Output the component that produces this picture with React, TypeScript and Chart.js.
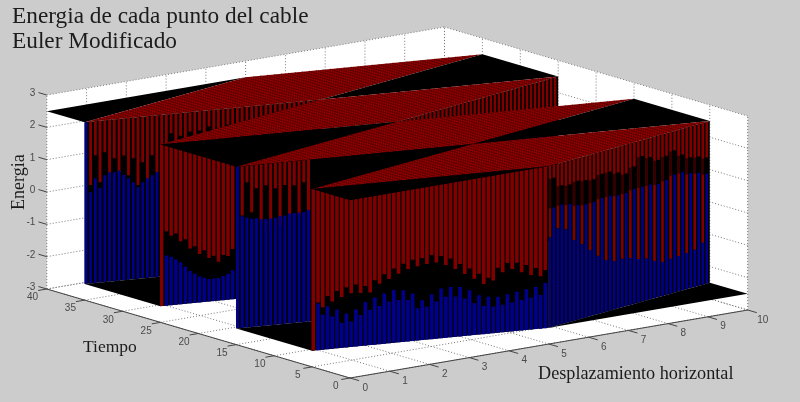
import React, { useEffect, useRef } from "react";
import { Chart, registerables } from "chart.js";

Chart.register(...registerables);

const titleLines = ["Energia de cada punto del cable", "Euler Modificado"];
const xAxisTitle = "Desplazamiento horizontal";
const tAxisTitle = "Tiempo";
const zAxisTitle = "Energia";

const xTicks = [0, 1, 2, 3, 4, 5, 6, 7, 8, 9, 10];
const tTicks = [0, 5, 10, 15, 20, 25, 30, 35, 40];
const zTicks = [-3, -2, -1, 0, 1, 2, 3];

const topLevel = 2.5;
const bottomLevel = -2.5;

// Footprints in (x, t) of the flat pieces of the surface
const plateau1 = [[0, 35], [5, 40], [10, 35], [5, 30]];
const plateau2 = [[0, 25], [5, 30], [10, 25], [5, 20]];
const plateau3 = [[0, 15], [5, 20], [10, 15], [5, 10]];
const plateau4 = [[0, 5], [5, 10], [10, 5], [5, 0]];
const topTriangle0 = [[0, 40], [0, 35], [5, 40]];
const topTriangle1 = [[10, 35], [10, 25], [5, 30]];
const topTriangle2 = [[0, 25], [0, 15], [5, 20]];
const topTriangle3 = [[5, 10], [10, 5], [10, 15]];
const topTriangle4 = [[0, 5], [0, 0], [5, 0]];
const bottomTriangle1 = [[0, 35], [0, 25], [5, 30]];
const bottomTriangle2 = [[0, 15], [0, 5], [5, 10]];
const bottomTriangle4 = [[5, 0], [10, 0], [10, 5]];

// Wall 1: from (0,35) to (5,30)
const wall1Red = [2.5, 0.54, 1.45, 0.6, 1.51, 0.7, 1.3, 0.85, 1.36, 0.73, 1.24, 0.4, 1.09, 0.46, 1.28, 0.74, 1.16,
  1.3, 1.9, 1.2, 1.8, 1.3, 1.9, 1.4, 1.9, 1.3, 2.0, 1.4, 1.9, 1.5, 2.0, 1.6, 2.0, 1.6, 2.0, 1.7, 2.1, 1.7, 2.1, 1.8, 2.1, 1.8, 2.1, 1.8, 2.2, 1.9, 2.2, 2.0, 2.2, 2.0];
const wall1Blue = [2.5, 0.32, 0.74, 0.42, 0.8, 0.88, 0.87, 0.91, 0.75, 0.64, 0.5, 0.33, 0.47, 0.58, 0.66, 0.74, 0.85,
  1.0, 1.0, 1.0, 1.0, 1.0, 1.0, 1.0, 1.0, 1.0, 1.0, 1.0, 1.0, 1.0, 1.0, 1.0, 1.0, 1.0, 1.0, 1.0, 1.0, 1.0, 1.0, 1.0, 1.0, 1.0, 1.0, 1.0, 1.0, 1.0, 1.0, 1.0, 1.0, 1.0];

// Wall 2: from (0,25) to (5,20), left part; from (5,20) to (10,25), right part
const wall2aRed = [-2.5, -0.2, -0.35, -0.3, -0.55, -0.5, -0.8, -0.75, -1.0, -0.9, -1.15, -1.1, -1.3, -1.1, -1.15, -0.95];
const wall2aBlue = [-2.5, -0.95, -1.0, -1.1, -1.2, -1.35, -1.5, -1.6, -1.7, -1.75, -1.8, -1.8, -1.8, -1.75, -1.7, -1.6];
const wall2bRed = [2.2, 1.9, 2.2, 1.8, 2.2, 1.8, 2.1, 1.7, 2.1, 1.6, 2.0, 1.6, 2.0, 1.5, 1.9, 1.5, 1.9, 1.4, 1.9, 1.4,
  1.8, 1.3, 1.8, 1.3, 1.7, 1.2, 1.8, 1.2, 1.7, 1.2, 1.7, 1.1, 1.7, 1.1, 1.6, 1.1, 1.6, 1.0, 1.6, 1.0];
const wall2bBlue = [1.0, 1.0, 1.0, 1.0, 1.0, 1.0, 1.0, 1.0, 1.0, 1.0, 1.0, 1.0, 1.0, 1.0, 1.0, 1.0, 1.0, 1.0, 1.0, 1.0,
  0.9, 0.9, 0.9, 0.9, 0.9, 0.9, 0.9, 0.9, 0.9, 0.9, 0.9, 0.9, 0.9, 0.9, 0.9, 0.9, 0.9, 0.9, 0.9, 0.9];

// Wall 3: from (0,15) to (5,10)
const wall3Red = [2.5, 0.98, 1.99, 1.05, 1.78, 0.71, 1.84, 0.5, 1.72, 0.56, 1.79, 0.63, 1.76, 0.81, 1.82, 0.79];
const wall3Blue = [2.5, 0.95, 0.9, 0.85, 0.85, 0.8, 0.8, 0.8, 0.8, 0.85, 0.85, 0.9, 0.9, 0.9, 0.9, 0.95];

// Wall 4: from (0,5) to (5,0), left part; from (5,0) to (10,5), right part
const wall4aRed = [-2.5, -1.03, -1.19, -0.85, -1.04, -0.73, -0.93, -0.64, -0.84, -0.58, -0.86, -0.66, -0.87, -0.51, -0.63, -0.34, -0.51, -0.2, -0.38, -0.08,
  -0.26, 0.01, -0.2, 0.04, -0.16, 0.1, -0.14, 0.04, -0.25, -0.06, -0.4, -0.26, -0.58, -0.43, -0.76, -0.62, -0.95, -0.77, -0.87, -0.49,
  -0.64, -0.37, -0.57, -0.39, -0.7, -0.49, -0.81, -0.61, -0.88, -0.7];
const wall4aBlue = [-2.5, -1.06, -1.42, -1.17, -1.5, -1.3, -1.72, -1.45, -1.71, -1.36, -1.54, -1.15, -1.41, -1.04, -1.32, -0.95, -1.21, -0.87, -1.19, -0.9,
  -1.22, -1.03, -1.5, -1.27, -1.48, -1.11, -1.35, -0.96, -1.23, -0.94, -1.25, -0.97, -1.34, -1.1, -1.52, -1.28, -1.63, -1.36, -1.67, -1.39,
  -1.65, -1.34, -1.61, -1.29, -1.56, -1.24, -1.51, -1.2, -1.46, -1.1];
const wall4bRed = [0.3, 2.1, 0.5, 1.8, 0.4, 1.75, 0.0, 1.8, -0.2, 1.75, -0.45, 1.7, -0.7, 1.8, -0.9, 1.8, -1.0, 1.7, -1.0, 1.6,
  -1.05, 1.75, -1.15, 2.0, -1.2, 1.9, -1.35, 1.75, -1.45, 1.8, -1.42, 1.9, -1.4, 1.7, -1.38, 1.55, -1.35, 1.5, -1.2, 1.4];
const wall4bBlue = [0.3, 1.18, 0.5, 1.2, 0.4, 1.15, 0.0, 1.05, -0.2, 1.0, -0.45, 1.0, -0.7, 1.05, -0.9, 1.05, -1.0, 1.0, -1.0, 1.0,
  -1.05, 1.05, -1.15, 1.05, -1.2, 1.05, -1.35, 1.0, -1.45, 1.05, -1.42, 1.15, -1.4, 1.15, -1.38, 1.05, -1.35, 1.0, -1.2, 0.9];

const DARK_RED = "#800000";
const DARK_BLUE = "#00008a";
const PLATEAU = "#880000";
const GAP = { x: NaN, y: NaN };

// Orthographic view of the 3D axes
const project = (x: number, t: number, z: number) => ({
  x: 350 + 39.77 * x - 7.58 * t,
  y: 378 - 6.8 * x - 2.225 * t - 32.33 * (z + 3),
});

const lineSet = (data: any[], color: string, width: number, dash: number[] = []) => ({
  data,
  showLine: true,
  pointRadius: 0,
  borderColor: color,
  borderWidth: width,
  borderDash: dash,
  borderCapStyle: "butt",
  fill: false,
});

const polygon = (corners: number[][], color: string) => ({
  data: corners.map(([x, y]) => ({ x, y })),
  showLine: true,
  pointRadius: 0,
  borderWidth: 0,
  borderColor: color,
  backgroundColor: color,
  fill: "shape",
});

const flat = (corners: number[][], z: number, color: string) =>
  polygon(corners.map(([x, t]) => { const p = project(x, t, z); return [p.x, p.y]; }), color);

function speckle(c: number[][], count: number) {
  const [a, b, , d] = c;
  const pts: any[] = [];
  for (let i = 0; i < count; i++) {
    for (let j = 0; j < count; j++) {
      const f = (i + 0.5) / count;
      const g = (j + 0.5) / count;
      pts.push(project(a[0] + f * (b[0] - a[0]) + g * (d[0] - a[0]), a[1] + f * (b[1] - a[1]) + g * (d[1] - a[1]), topLevel));
    }
  }
  return pts;
}

const plateau = (c: number[][]) => [
  flat(c, topLevel, PLATEAU),
  {
    data: speckle(c, 34),
    showLine: false,
    pointStyle: "rect",
    pointRadius: 0.9,
    pointBorderWidth: 0,
    pointBackgroundColor: "rgba(0,0,0,0.5)",
  },
];

function wall(from: number[], to: number[], step: number, red: number[], blue: number[], width: number, shade = false) {
  const dt = (to[1] - from[1]) / (to[0] - from[0]);
  const background = polygon(
    [project(from[0], from[1], topLevel), project(to[0], to[1], topLevel), project(to[0], to[1], bottomLevel), project(from[0], from[1], bottomLevel)].map((p) => [p.x, p.y]),
    "#000000"
  );
  const redPts: any[] = [];
  const bluePts: any[] = [];
  const shadePts: any[] = [];
  red.forEach((r, i) => {
    const x = from[0] + (i + 0.25) * step;
    const t = from[1] + (i + 0.25) * step * dt;
    if (r < topLevel) {
      redPts.push(project(x, t, topLevel), project(x, t, r), GAP);
    }
    if (blue[i] > bottomLevel) {
      bluePts.push(project(x, t, blue[i]), project(x, t, bottomLevel), GAP);
    }
    if (shade && i % 2 === 0 && i + 1 < red.length) {
      shadePts.push(project(x, t, red[i + 1]), project(x, t, blue[i + 1]), GAP);
    }
  });
  const sets: any[] = [background, lineSet(redPts, DARK_RED, width), lineSet(bluePts, DARK_BLUE, width)];
  if (shade) sets.push(lineSet(shadePts, "rgba(0,0,0,0.6)", width));
  return sets;
}

function axesSets() {
  const grid: any[] = [];
  const seg = (a: number[], b: number[]) => grid.push(project(a[0], a[1], a[2]), project(b[0], b[1], b[2]), GAP);
  xTicks.forEach((x) => { seg([x, 0, -3], [x, 40, -3]); seg([x, 40, -3], [x, 40, 3]); });
  tTicks.forEach((t) => { seg([0, t, -3], [10, t, -3]); seg([10, t, -3], [10, t, 3]); });
  zTicks.forEach((z) => { seg([0, 40, z], [10, 40, z]); seg([10, 40, z], [10, 0, z]); });
  const axis: any[] = [];
  const axSeg = (a: number[], b: number[]) => axis.push(project(a[0], a[1], a[2]), project(b[0], b[1], b[2]), GAP);
  axSeg([0, 0, -3], [0, 40, -3]);
  axSeg([0, 0, -3], [10, 0, -3]);
  tTicks.forEach((t) => axSeg([0, t, -3], [-0.22, t, -3]));
  xTicks.forEach((x) => axSeg([x, 0, -3], [x, -1.2, -3]));
  zTicks.forEach((z) => axSeg([0, 40, z], [0, 41.1, z]));
  const plane = (pts: number[][]) =>
    polygon(pts.map((a) => { const p = project(a[0], a[1], a[2]); return [p.x, p.y]; }), "#ffffff");
  return [
    plane([[0, 40, -3], [10, 40, -3], [10, 40, 3], [0, 40, 3]]),
    plane([[10, 40, -3], [10, 0, -3], [10, 0, 3], [10, 40, 3]]),
    plane([[0, 0, -3], [10, 0, -3], [10, 40, -3], [0, 40, -3]]),
    lineSet(grid, "#7a7a7a", 1, [1, 2]),
    lineSet(axis, "#444444", 1),
  ];
}

const textPlugin = {
  id: "axisText",
  afterDraw(chart: any) {
    const { ctx, scales } = chart;
    const place = (x: number, t: number, z: number) => {
      const p = project(x, t, z);
      return [scales.x.getPixelForValue(p.x), scales.y.getPixelForValue(p.y)];
    };
    ctx.save();
    ctx.fillStyle = "#4a4a4a";
    ctx.font = '10px "Liberation Sans"';
    ctx.textBaseline = "middle";
    ctx.textAlign = "right";
    zTicks.forEach((z) => {
      const [px, py] = place(0, 41.5, z - 0.05);
      ctx.fillText(String(z), px, py);
    });
    ctx.textAlign = "center";
    tTicks.forEach((t) => {
      const [px, py] = place(-0.36, t, -3.19);
      ctx.fillText(String(t), px, py);
    });
    xTicks.forEach((x) => {
      const [px, py] = place(x, -2, -3.17);
      ctx.fillText(String(x), px, py);
    });
    ctx.fillStyle = "#1c1c1c";
    ctx.textAlign = "left";
    ctx.textBaseline = "alphabetic";
    ctx.font = '23.3px "Liberation Serif"';
    titleLines.forEach((line, i) => ctx.fillText(line, 12, 23 + i * 25));
    ctx.font = '18.2px "Liberation Serif"';
    ctx.fillText(xAxisTitle, 538, 379);
    ctx.font = '17.5px "Liberation Serif"';
    ctx.fillText(tAxisTitle, 83, 352);
    ctx.translate(24, 210);
    ctx.rotate(-Math.PI / 2);
    ctx.font = '18px "Liberation Serif"';
    ctx.fillText(zAxisTitle, 0, 0);
    ctx.restore();
  },
};

export default function App() {
  const ref = useRef<HTMLCanvasElement>(null);
  useEffect(() => {
    document.body.style.margin = "0";
    document.body.style.background = "#cccccc";
    const drawOrder: any[] = [
      ...axesSets(),
      flat(topTriangle0, topLevel, "#000000"),
      ...plateau(plateau1),
      ...wall([0, 35], [5, 30], 0.1, wall1Red, wall1Blue, 2.8),
      flat(bottomTriangle1, bottomLevel, "#000000"),
      flat(topTriangle1, topLevel, "#000000"),
      ...plateau(plateau2),
      ...wall([5, 20], [10, 25], 0.125, wall2bRed, wall2bBlue, 2.4),
      ...wall([0, 25], [5, 20], 0.1, wall2aRed, wall2aBlue, 3.4),
      flat(topTriangle2, topLevel, "#000000"),
      flat(bottomTriangle2, bottomLevel, "#000000"),
      ...plateau(plateau3),
      ...wall([0, 15], [5, 10], 0.1, wall3Red, wall3Blue, 3),
      flat(topTriangle3, topLevel, "#000000"),
      ...plateau(plateau4),
      ...wall([5, 0], [10, 5], 0.125, wall4bRed, wall4bBlue, 2.6, true),
      ...wall([0, 5], [5, 0], 0.1, wall4aRed, wall4aBlue, 3.6),
      flat(topTriangle4, topLevel, "#000000"),
      flat(bottomTriangle4, bottomLevel, "#000000"),
    ];
    const chart = new Chart(ref.current as HTMLCanvasElement, {
      type: "scatter",
      data: { datasets: drawOrder.reverse() },
      options: {
        animation: false,
        responsive: false,
        devicePixelRatio: 1,
        layout: { padding: 0, autoPadding: false },
        plugins: { legend: { display: false }, tooltip: { enabled: false } },
        events: [],
        scales: {
          x: { type: "linear", display: false, min: 0, max: 800 },
          y: { type: "linear", display: false, min: 0, max: 402, reverse: true },
        },
      },
      plugins: [textPlugin],
    } as any);
    return () => chart.destroy();
  }, []);
  return (
    <div style={{ position: "absolute", left: 0, top: 0, width: 800, height: 402, background: "#cccccc", overflow: "hidden" }}>
      <canvas ref={ref} width={800} height={402} style={{ display: "block", filter: "blur(0.4px)" }} />
    </div>
  );
}
